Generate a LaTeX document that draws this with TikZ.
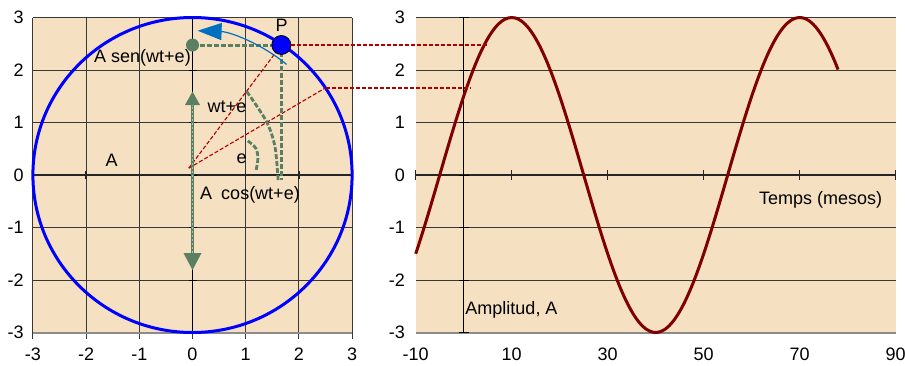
\documentclass[tikz,border=0pt]{standalone}
\usepackage{fontspec}
\setmainfont{Liberation Sans}
\usetikzlibrary{arrows.meta}
\definecolor{beige}{HTML}{F5E1C2}
\definecolor{grn}{HTML}{5A7F62}
\definecolor{lgrn}{HTML}{A9C2A9}
\definecolor{mar}{HTML}{800000}
\definecolor{dred}{HTML}{B00000}
\definecolor{bluearr}{HTML}{0070C0}
\tikzset{
 lbl/.style={font=\fontsize{18}{21}\selectfont, inner sep=0pt, text=black},
 gridl/.style={black!78, line width=0.9pt},
 bottoml/.style={black!45, line width=2pt},
 axisl/.style={black!85, line width=1.4pt},
 yaxisl/.style={black, line width=1pt},
 gdash/.style={grn, line width=3pt, dash pattern=on 5pt off 2pt},
 rdash/.style={dred, line width=1.4pt, dash pattern=on 4pt off 2pt},
 shaft/.style={grn, line width=3pt},
 shaftc/.style={lgrn, line width=0.8pt, dash pattern=on 2pt off 2pt},
}
\begin{document}
\begin{tikzpicture}[x=1pt,y=1pt]
\useasboundingbox (0,0) rectangle (905,-365);
% ---------------- left panel ----------------
\begin{scope}[shift={(192.5pt,-175pt)}, x=53.2pt, y=52.5pt]
 \fill[beige] (-3,-3) rectangle (3,3);
 \foreach \i in {-3,...,3} \draw[gridl] ([yshift=-6pt]\i,-3) -- (\i,3);
 \foreach \j in {-2,...,3} \draw[gridl] (-3,\j) -- (3,\j);
 \draw[bottoml] (-3,-3) -- (3,-3);
 \draw[axisl] (-3,0) -- (3,0);
 \foreach \i in {-3,...,3} \draw[axisl] ([yshift=-4pt]\i,0) -- ([yshift=4pt]\i,0);
 \draw[yaxisl] (0,-3) -- (0,3);
 \foreach \j in {-3,...,3} \draw[yaxisl] ([xshift=-4pt]0,\j) -- ([xshift=4pt]0,\j);
 \foreach \i in {-3,...,3} \node[lbl] (xl\i) at (\i,-3.41) {\i};
 \foreach \j in {-3,...,3} \node[lbl, anchor=east] (yl\j) at ([xshift=-9pt]-3,\j) {\j};
 % key points
 \coordinate (O) at (-0.07,0.13);
 \coordinate (P) at (1.67,2.476);
 \coordinate (Q) at (2.5,1.66);
 \coordinate (G) at (0,2.476);
 \coordinate (Pb) at (1.67,-0.1);
 \coordinate (Sb) at (0,-1.49);
 \coordinate (St) at (0,1.33);
 \coordinate (Tu) at (0,1.59);
 \coordinate (Td) at (0,-1.81);
 % circle
 \draw[blue, line width=3pt] (0,0) circle [radius=3];
 % red dashed radii
 \draw[rdash, line width=1.1pt] (O) -- (P);
 \draw[rdash, line width=1.1pt] (O) -- (Q);
 % green arcs
 \draw[gdash, line width=2.8pt] plot[smooth] coordinates {(1.02,1.59) (1.39,1.02) (1.55,0.54) (1.61,-0.1)};
 \draw[gdash, line width=2.8pt] plot[smooth] coordinates {(1.04,0.65) (1.19,0.51) (1.23,0.32) (1.19,0.06)};
 % green arrow shaft and heads
 \draw[shaft] (Sb) -- (St);
 \draw[shaftc] (Sb) -- (St);
 \fill[grn] (Tu) -- ([xshift=-7.5pt,yshift=-13.5pt]Tu) -- ([xshift=7.5pt,yshift=-13.5pt]Tu) -- cycle;
 \fill[grn] (Td) -- ([xshift=-9pt,yshift=17pt]Td) -- ([xshift=9pt,yshift=17pt]Td) -- cycle;
 % projections
 \draw[gdash] (G) -- (P);
 \draw[gdash] (P) -- (Pb);
 % blue rotation arrow
 \draw[bluearr, line width=1.2pt, -{Triangle[length=24pt,width=17pt]}] (50:2.75) arc[start angle=50, end angle=88, radius=2.75];
 % dots
 \node[circle, fill=grn, minimum size=13pt, inner sep=0pt] (Gdot) at (G) {};
 \node[circle, fill=blue, draw=black, line width=0.8pt, minimum size=19pt, inner sep=0pt] (Pdot) at (P) {};
\end{scope}
% left labels
\node[lbl] (lP) at (281.7,-25) {P};
\node[lbl] (lsen) at (142.5,-58.3) {A sen(wt+e)};
\node[lbl] (lwt) at (227,-106.7) {wt+e};
\node[lbl] (lA) at (111.7,-160) {A};
\node[lbl] (le) at (241.7,-158.3) {e};
\node[lbl] (lcos) at (250,-195) {A\hspace{0.5em}cos(wt+e)};
% ---------------- right panel ----------------
\begin{scope}[shift={(463.7pt,-175pt)}, x=4.8pt, y=52.5pt]
 \fill[beige] (-10,-3) rectangle (90,3);
 \foreach \j in {-2,-1,1,2,3} \draw[gridl] (-10,\j) -- (90,\j);
 \draw[bottoml] (-10,-3) -- (90,-3);
 \draw[axisl] (-10,0) -- (90,0);
 \foreach \t in {-10,10,30,50,70,90} \draw[axisl] ([yshift=-5pt]\t,0) -- ([yshift=5pt]\t,0);
 \draw[yaxisl] (0,-3) -- (0,3);
 \foreach \j in {-3,...,3} \draw[yaxisl] ([xshift=-5pt]0,\j) -- ([xshift=5pt]0,\j);
 \foreach \t in {-10,10,30,50,70,90} \node[lbl] (tl\t) at (\t,-3.41) {\t};
 \foreach \j in {-3,...,3} \node[lbl, anchor=east] (ry\j) at ([xshift=-10.7pt]-10,\j) {\j};
 \coordinate (R1) at (5.06,2.476);
 \coordinate (R2) at (1.3,1.66);
 \draw[mar, line width=3pt] plot[domain=-10:78, samples=120, smooth] (\x,{3*cos(6*(\x-10))});
\end{scope}
\draw[rdash] (Pdot.east) -- (R1);
\draw[rdash] (Q) -- (R2);
\node[lbl] (ltemps) at (820.7,-200) {Temps (mesos)};
\node[lbl] (lamp) at (511.5,-310) {Amplitud, A};
\end{tikzpicture}
\end{document}
